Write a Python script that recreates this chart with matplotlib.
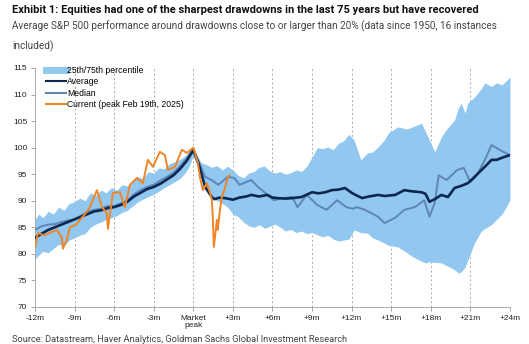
import matplotlib.pyplot as plt
from matplotlib.lines import Line2D

# x values are months relative to the market peak
band_months = [-12, -11.7, -11.4, -11, -10.6, -10.2, -9.8, -9.4, -9, -8.6, -8.2, -7.8, -7.4, -7,
               -6.6, -6.2, -5.8, -5.4, -5, -4.6, -4.2, -3.8, -3.4, -3, -2.6, -2.2, -1.8, -1.4,
               -1, -0.6, -0.3, 0, 0.3, 0.6, 1, 1.4, 1.8, 2.2, 2.6, 3, 3.4, 3.8, 4.2, 4.6, 5,
               5.4, 5.8, 6.2, 6.6, 7, 7.4, 7.8, 8.2, 8.6, 9, 9.4, 9.8, 10.2, 10.6, 11, 11.4,
               11.8, 12.2, 12.7, 13.2, 13.6, 14, 14.5, 14.8, 15.5, 16.2, 16.6, 17.3, 17.6,
               17.9, 18.3, 18.8, 19.2, 19.8, 20.1, 20.3, 20.6, 20.8, 21.3, 21.8, 22.1, 22.6,
               23, 23.4, 24]
band_upper = [86.5, 87.5, 86.8, 88, 87.5, 88.8, 88.2, 89.5, 89.8, 90.5, 90, 91.5, 91, 92,
              91.5, 92.5, 92, 93, 92.8, 93.8, 94.5, 94.2, 95.5, 95.2, 96.2, 96, 97, 97.3,
              97.8, 98.5, 99.2, 100.3, 98.5, 97.2, 96.8, 96.3, 96.6, 95.8, 96.5, 95.8, 94.8,
              94.3, 95.2, 95.5, 96.3, 96.5, 95.6, 95.2, 95.5, 95, 95.3, 95.8, 95.5, 96.5,
              98.2, 100, 99.8, 100.1, 99.6, 100.8, 101.3, 102.5, 101.4, 97.7, 99, 99.2,
              100.1, 101.5, 102.8, 103.9, 103.5, 103.9, 104.6, 103, 101.4, 99.2, 102, 103.5,
              105.2, 107.5, 108.4, 106.5, 108.4, 109.5, 111, 112.2, 111.5, 112.2, 111.8, 113.3]
band_lower = [79, 79.8, 80.5, 80.2, 81, 81.8, 81.5, 82.6, 83, 83.5, 83.8, 85, 85.6, 86,
              86.5, 86.8, 87.2, 87.8, 88.2, 89, 89.8, 90.3, 90.8, 91.2, 91.8, 92.5, 93, 93.6,
              94.2, 95.3, 96.5, 98.5, 96.5, 94.5, 92, 90.5, 90, 89.5, 88.8, 87.5, 87, 86,
              85.3, 85, 85.5, 84.8, 85.2, 85.6, 85, 84.3, 84.6, 84, 84.3, 83.8, 84, 83.6,
              83.2, 83.5, 82.8, 82.4, 82.6, 82.8, 84.5, 84, 83.9, 83, 82.6, 82, 81.6, 81.3,
              80.2, 79.5, 78.6, 78.3, 78.5, 78.4, 78.3, 77.8, 77, 76.4, 76.6, 77.5, 78.8,
              82, 84.2, 84.8, 85.5, 86.5, 87.5, 90.1]

avg_months = [-12, -11.5, -11, -10.5, -10, -9.5, -9, -8.5, -8, -7.5, -7, -6.5, -6, -5.5, -5,
              -4.5, -4, -3.5, -3, -2.5, -2, -1.5, -1, -0.5, 0, 0.4, 0.9, 1.4, 1.6, 2, 2.4, 3,
              3.5, 4, 4.4, 5, 5.6, 6, 6.4, 7, 7.5, 8.2, 9, 9.5, 10, 10.5, 11, 11.5, 12, 12.3,
              12.8, 13.3, 14, 14.5, 15.3, 16, 16.5, 17.3, 17.6, 17.9, 18.3, 18.8, 19.3, 19.8,
              20.3, 20.8, 21.2, 21.6, 22.1, 22.6, 23, 23.4, 24]
avg_values = [83, 83.8, 84.5, 85, 85.5, 86, 86.5, 87, 87.5, 88, 88.2, 88.6, 88.8, 89.2, 89.8,
              90.8, 91.5, 92.2, 92.6, 93.2, 94, 94.8, 96, 97.5, 99.5, 97, 92.6, 90.7, 90.3,
              90.6, 90.5, 90.2, 90.6, 90.8, 91.1, 90.8, 91.1, 90.6, 90.5, 90.4, 90.5, 90.7,
              91.6, 91.4, 91.6, 92, 92.1, 92.4, 91.5, 91.1, 90.5, 90.8, 91.1, 90.9, 91.1, 92,
              91.8, 91.6, 91.3, 89.8, 90.3, 91.1, 90.7, 92.4, 92.8, 93.3, 94.2, 95.2, 96.4,
              97.7, 97.7, 98.1, 98.6]

med_months = [-12, -11.5, -11, -10.5, -10, -9.5, -9, -8.5, -8, -7.5, -7, -6.5, -6, -5.5, -5,
              -4.5, -4, -3.5, -3, -2.5, -2, -1.5, -1, -0.5, 0, 0.35, 0.9, 1.4, 1.9, 2.6, 3.1,
              3.5, 4, 4.4, 4.9, 5.4, 6.1, 6.8, 7.5, 7.9, 8.6, 9.4, 10.1, 10.9, 11.6, 12.1,
              12.4, 13, 14, 14.5, 15.3, 16, 16.8, 17.5, 17.9, 18.3, 18.6, 19.2, 20, 20.5, 21,
              21.5, 22.2, 22.6, 23, 23.5, 24]
med_values = [84.5, 85.2, 85.5, 85.6, 86, 86.3, 86.5, 87.2, 88, 88.3, 88.5, 89, 89, 89.5, 90,
              91.2, 92, 92.6, 93, 93.8, 94.5, 95.3, 96.5, 98, 99.8, 97.7, 94.5, 93.9, 93,
              94.5, 94.3, 93, 93.5, 93.9, 92.6, 91.6, 90.1, 90.5, 90.7, 88.8, 91.1, 89.2,
              88.3, 90.1, 88.8, 88.5, 88.8, 88.3, 87, 85.8, 86.8, 88.3, 88.8, 90.1, 87, 89.6,
              94.8, 93.9, 95.8, 96.2, 93.5, 94.8, 98.2, 100.5, 99.9, 99.2, 98.6]

cur_months = [-12, -11.77, -11.3, -10.86, -10.33, -9.95, -9.88, -9.6, -9.35, -8.9, -8.59,
              -8.2, -7.83, -7.3, -6.92, -6.55, -6.47, -6.09, -5.56, -5.18, -4.8, -4.27, -3.82,
              -3.44, -3.06, -2.53, -2.15, -1.92, -1.39, -0.86, -0.48, 0, 0.35, 0.5, 0.73,
              1.03, 1.26, 1.41, 1.48, 1.56, 1.79, 1.86, 2.02, 2.17, 2.4, 2.63, 2.77]
cur_values = [81.3, 83.9, 83.5, 84, 84.5, 83, 81, 82.5, 85, 85.5, 86.4, 87.5, 88.8, 92, 88.8,
              87.7, 84.7, 91.5, 91.6, 88.8, 93, 94.3, 93.3, 97.7, 96.4, 99.2, 98.6, 95.8,
              96.4, 99.6, 99, 100, 97.1, 94.5, 92, 93.3, 91.6, 90.1, 87, 81.3, 86.4, 84.5,
              88.3, 90.7, 92.4, 94.5, 94.8]

tick_months = [-12, -9, -6, -3, 0, 3, 6, 9, 12, 15, 18, 21, 24]
tick_labels = ['-12m', '-9m', '-6m', '-3m', 'Market\npeak', '+3m', '+6m', '+9m', '+12m',
               '+15m', '+18m', '+21m', '+24m']
legend_labels = ['25th/75th percentile', 'Average', 'Median', 'Current (peak Feb 19th, 2025)']

BAND = '#92c8ef'
AVG = '#0c2850'
MED = '#5d86b6'
CUR = '#ef8526'
HEAD = dict(family=['Roboto', 'DejaVu Sans'], fontstretch='condensed')

plt.rcParams['font.family'] = ['Liberation Sans', 'DejaVu Sans']

fig = plt.figure(figsize=(5.29, 3.44), dpi=100)
ax = fig.add_axes([0.066, 0.1076, 0.898, 0.6948])

ax.fill_between(band_months, band_lower, band_upper, color=BAND, lw=0, zorder=1)
ax.plot(med_months, med_values, color=MED, lw=1.4, zorder=3)
ax.plot(avg_months, avg_values, color=AVG, lw=1.9, zorder=4)
ax.plot(cur_months, cur_values, color=CUR, lw=1.4, zorder=5)

for m in tick_months[1:]:
    ax.axvline(m, color='#aaaaaa', lw=0.7, ls=(0, (2, 2.5)), zorder=0)

ax.set_xlim(-12, 24)
ax.set_ylim(70, 115)
ax.set_yticks(range(70, 116, 5))
ax.set_xticks(tick_months)
ax.set_xticklabels(tick_labels, linespacing=1.0)
ax.tick_params(labelsize=6, length=3, width=0.6, color='#999999', pad=2.5,
               labelcolor='#222222')
for side in ['top', 'right']:
    ax.spines[side].set_visible(False)
for side in ['left', 'bottom']:
    ax.spines[side].set_color('#aaaaaa')
    ax.spines[side].set_linewidth(0.7)

handles = [
    Line2D([], [], color=BAND, lw=5),
    Line2D([], [], color=AVG, lw=1.5),
    Line2D([], [], color=MED, lw=1.5),
    Line2D([], [], color=CUR, lw=1.5),
]
ax.legend(handles, legend_labels, loc='upper left', bbox_to_anchor=(0.01, 1.035),
          frameon=False, fontsize=6.2, handlelength=2.4, handletextpad=0.1,
          labelspacing=0.3, borderpad=0.2)

fig.text(0.023, 0.971, 'Exhibit 1: Equities had one of the sharpest drawdowns in the last 75 '
         'years but have recovered', fontsize=8, fontweight='bold',
         va='center', ha='left', color='#111111', **HEAD)
fig.text(0.023, 0.924, 'Average S&P 500 performance around drawdowns close to or larger than '
         '20% (data since 1950, 16 instances', fontsize=7.2,
         va='center', ha='left', color='#444444', **HEAD)
fig.text(0.023, 0.866, 'included)', fontsize=7.2,
         va='center', ha='left', color='#444444', **HEAD)
fig.text(0.023, 0.0145, 'Source: Datastream, Haver Analytics, Goldman Sachs Global Investment '
         'Research', fontsize=6.7, va='center', ha='left', color='#444444', **HEAD)

fig.savefig('out.png', dpi=100)
